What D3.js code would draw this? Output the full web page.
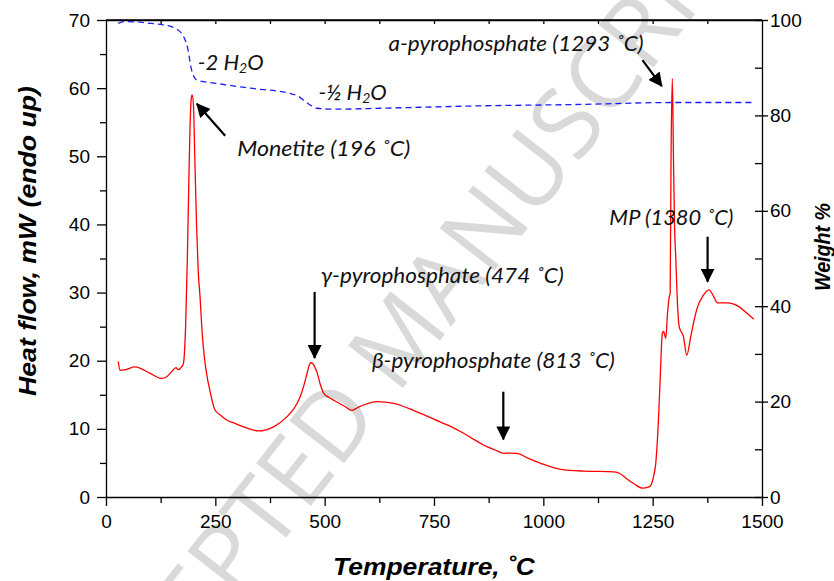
<!DOCTYPE html>
<html>
<head>
<meta charset="utf-8">
<script src="https://cdn.jsdelivr.net/npm/d3@7"></script>
<style>
  body { margin: 0; background: #fff; }
  svg { display: block; }
</style>
</head>
<body>
<div id="chart"></div>
<script>
// DSC heat flow curve (red), temperature in deg C, heat flow in mW
var dscTemp = [28, 32, 45, 66, 101, 127, 139, 150, 160, 165, 173, 177, 182, 186, 189, 192, 195, 197, 200, 203, 207, 211, 215, 220, 225, 230, 238, 249, 262, 276, 295, 314, 349, 383, 414, 430, 444, 453, 460, 465, 469, 474, 478, 482, 490, 498, 510, 521, 547, 562, 575, 589, 620, 658, 711, 765, 790, 818, 840, 864, 890, 910, 925, 940, 965, 994, 1040, 1093, 1162, 1175, 1190, 1208, 1227, 1240, 1246, 1252, 1257, 1263, 1267, 1270, 1272, 1275, 1280, 1284, 1288, 1290, 1292, 1295, 1297.6, 1300, 1303, 1307, 1310.6, 1320.5, 1328, 1337, 1345, 1352.6, 1365, 1379, 1388, 1398, 1421, 1448, 1465, 1481];
var dscFlow = [19.9, 18.6, 18.7, 19.1, 18.15, 17.4, 17.65, 18.4, 19.0, 18.7, 19.1, 19.6, 25, 35, 45, 54, 58.5, 59.0, 57.5, 50, 40, 33, 29.4, 24, 20.5, 18.1, 15.5, 12.8, 12.0, 11.3, 10.8, 10.3, 9.7, 10.3, 11.8, 13.0, 14.7, 16.5, 18.2, 19.4, 19.7, 19.5, 19.0, 18.4, 16.5, 15.2, 14.6, 14.2, 13.25, 12.7, 13.1, 13.5, 14.0, 13.75, 12.5, 11.0, 10.3, 9.35, 8.5, 7.6, 6.9, 6.4, 6.45, 6.4, 5.7, 4.95, 4.05, 3.8, 3.7, 3.45, 2.7, 1.9, 1.3, 1.45, 1.75, 3.0, 4.9, 11, 17, 22, 24.0, 24.3, 23.3, 27.0, 29.4, 29.9, 49.5, 61.4, 49.5, 40, 34.8, 28, 25.0, 23.5, 20.8, 23.5, 26, 27.9, 29.5, 30.4, 29.6, 28.5, 28.5, 27.9, 27.0, 26.1];

// TGA weight curve (blue dashed), weight %
var tgaTemp = [28, 40, 70, 101, 130, 147, 160, 173, 180, 186, 190, 194, 200, 208, 253, 330, 421, 440, 452, 465, 482, 520, 627, 673, 856, 1085, 1292, 1479];
var tgaWeight = [99.3, 99.65, 99.6, 99.3, 99.0, 98.7, 98.2, 97.2, 96.0, 94.4, 92.4, 90.2, 88.3, 87.4, 86.7, 85.7, 84.6, 84.0, 83.2, 82.3, 81.5, 81.3, 81.5, 81.6, 82.0, 82.3, 82.7, 82.7];

// axis ticks
var xTicks = [0, 250, 500, 750, 1000, 1250, 1500];
var xMinorTicks = [125, 375, 625, 875, 1125, 1375];
var leftTicks = [0, 10, 20, 30, 40, 50, 60, 70];
var leftMinorTicks = [5, 15, 25, 35, 45, 55, 65];
var rightTicks = [0, 20, 40, 60, 80, 100];
var rightMinorTicks = [10, 30, 50, 70, 90];

// annotation labels (anchor in temperature / heat flow units)
var labelText = ["-2 H|2|O", "-½  H|2|O", "Monetite (196 ˚C)", "a-pyrophosphate (1293 ˚C)", "γ-pyrophosphate (474 ˚C)", "β-pyrophosphate (813 ˚C)", "MP (1380 ˚C)"];
var labelTemp = [210, 486, 300, 646, 491, 608, 1151];
var labelFlow = [62.7, 58.3, 50.0, 65.5, 31.4, 19.0, 39.9];
var labelWidth = [63, 72, 173, 255, 243, 243, 124];

// arrows: tail -> head, in temperature / heat flow units
var arrowFromT = [272.5, 477, 908.5, 1226.6, 1375.6];
var arrowFromF = [53.0, 30.1, 15.45, 64.1, 38.2];
var arrowToT = [207.7, 477, 908.5, 1271, 1375.6];
var arrowToF = [57.7, 20.4, 8.45, 60.3, 31.6];

var width = 834, height = 581;
var margin = {top: 20, right: 72, bottom: 84, left: 106};

var svg = d3.select("#chart").append("svg")
    .attr("width", width)
    .attr("height", height);

var x = d3.scaleLinear().domain([0, 1500]).range([margin.left, width - margin.right]);
var y = d3.scaleLinear().domain([0, 70]).range([height - margin.bottom, margin.top]);
var y2 = d3.scaleLinear().domain([0, 100]).range([height - margin.bottom, margin.top]);

// watermark
svg.append("text")
    .attr("transform", "translate(400,330) rotate(-52)")
    .attr("text-anchor", "middle")
    .attr("dominant-baseline", "central")
    .style("font-family", "'Open Sans', 'Liberation Sans', sans-serif")
    .style("font-size", "97px")
    .style("fill", "#d9d9d9")
    .text("ACCEPTED MANUSCRIPT");

var axisFont = "'Liberation Sans', Arial, sans-serif";

// bottom axis
var gx = svg.append("g")
    .attr("transform", "translate(0," + y(0) + ")")
    .call(d3.axisBottom(x).tickValues(xTicks.concat(xMinorTicks))
        .tickSize(9).tickSizeOuter(0).tickPadding(9)
        .tickFormat(function(d) { return xTicks.indexOf(d) >= 0 ? d : ""; }));
gx.selectAll(".tick").filter(function(d) { return xMinorTicks.indexOf(d) >= 0; })
    .select("line").attr("y2", 6);

// top axis (inward ticks only)
svg.append("g")
    .attr("transform", "translate(0," + margin.top + ")")
    .call(d3.axisTop(x).tickValues(xTicks.concat(xMinorTicks).filter(function(d) { return d > 0 && d < 1500; }))
        .tickSize(-4).tickSizeOuter(0).tickFormat(""));

// left axis
var gy = svg.append("g")
    .attr("transform", "translate(" + x(0) + ",0)")
    .call(d3.axisLeft(y).tickValues(leftTicks.concat(leftMinorTicks))
        .tickSize(9).tickSizeOuter(0).tickPadding(7)
        .tickFormat(function(d) { return leftTicks.indexOf(d) >= 0 ? d : ""; }));
gy.selectAll(".tick").filter(function(d) { return leftMinorTicks.indexOf(d) >= 0; })
    .select("line").attr("x2", -6);

// right axis
var gy2 = svg.append("g")
    .attr("transform", "translate(" + x(1500) + ",0)")
    .call(d3.axisRight(y2).tickValues(rightTicks.concat(rightMinorTicks))
        .tickSize(6).tickSizeOuter(0).tickPadding(2)
        .tickFormat(function(d) { return rightTicks.indexOf(d) >= 0 ? d : ""; }));
gy2.selectAll(".tick line").attr("x1", -7);
gy2.selectAll(".tick").filter(function(d) { return rightMinorTicks.indexOf(d) >= 0; })
    .select("line").attr("x2", 0);

svg.selectAll(".domain, .tick line").attr("stroke", "#000").attr("stroke-width", 1.3);
svg.selectAll(".tick text")
    .style("font-family", axisFont)
    .style("font-size", "19px")
    .attr("fill", "#000");

// frame top line
svg.append("line")
    .attr("x1", x(0)).attr("x2", x(1500))
    .attr("y1", y(70)).attr("y2", y(70))
    .attr("stroke", "#000").attr("stroke-width", 1.3);

// axis titles
function title(txt, tr, size, len) {
    svg.append("text")
        .attr("transform", tr)
        .attr("text-anchor", "middle")
        .attr("textLength", len)
        .attr("lengthAdjust", "spacingAndGlyphs")
        .style("font-family", axisFont)
        .style("font-weight", "bold").style("font-style", "italic")
        .style("font-size", size + "px")
        .text(txt);
}
title("Heat flow, mW (endo up)", "translate(36,241) rotate(-90)", 24, 310);
title("Weight %", "translate(830,247) rotate(-90)", 22, 88);
title("Temperature, ˚C", "translate(434,575)", 23, 202);

// curves
var dscData = dscTemp.map(function(t, i) { return [t, dscFlow[i]]; });
var tgaData = tgaTemp.map(function(t, i) { return [t, tgaWeight[i]]; });

svg.append("path")
    .datum(tgaData)
    .attr("fill", "none")
    .attr("stroke", "#1a1aff")
    .attr("stroke-width", 1.3)
    .attr("stroke-dasharray", "6,4")
    .attr("d", d3.line()
        .x(function(d) { return x(d[0]); })
        .y(function(d) { return y2(d[1]); })
        .curve(d3.curveMonotoneX));

svg.append("path")
    .datum(dscData)
    .attr("fill", "none")
    .attr("stroke", "#ff0000")
    .attr("stroke-width", 1.3)
    .attr("d", d3.line()
        .x(function(d) { return x(d[0]); })
        .y(function(d) { return y(d[1]); })
        .curve(d3.curveMonotoneX));

// arrows
svg.append("defs").append("marker")
    .attr("id", "head")
    .attr("viewBox", "0 0 14 14")
    .attr("refX", 13).attr("refY", 7)
    .attr("markerWidth", 14).attr("markerHeight", 14)
    .attr("markerUnits", "userSpaceOnUse")
    .attr("orient", "auto")
    .append("path")
    .attr("d", "M0,0 L14,7 L0,14 Z")
    .attr("fill", "#000");

arrowFromT.forEach(function(t, i) {
    svg.append("line")
        .attr("x1", x(t)).attr("y1", y(arrowFromF[i]))
        .attr("x2", x(arrowToT[i])).attr("y2", y(arrowToF[i]))
        .attr("stroke", "#000")
        .attr("stroke-width", 2.2)
        .attr("marker-end", "url(#head)");
});

// labels
labelText.forEach(function(s, i) {
    var t = svg.append("text")
        .attr("x", x(labelTemp[i]))
        .attr("y", y(labelFlow[i]))
        .style("font-family", "Lato, 'Open Sans', sans-serif")
        .style("font-style", "italic")
        .style("font-size", "21px")
        .attr("fill", "#111");
    var parts = s.split("|");
    if (parts.length === 1) {
        t.text(s)
            .attr("textLength", labelWidth[i])
            .attr("lengthAdjust", "spacingAndGlyphs");
    } else {
        t.style("font-size", "22px");
        t.append("tspan").text(parts[0]);
        t.append("tspan").text(parts[1]).style("font-size", "14px").attr("dy", 3);
        t.append("tspan").text(parts[2]).attr("dy", -3);
    }
});
</script>
</body>
</html>
